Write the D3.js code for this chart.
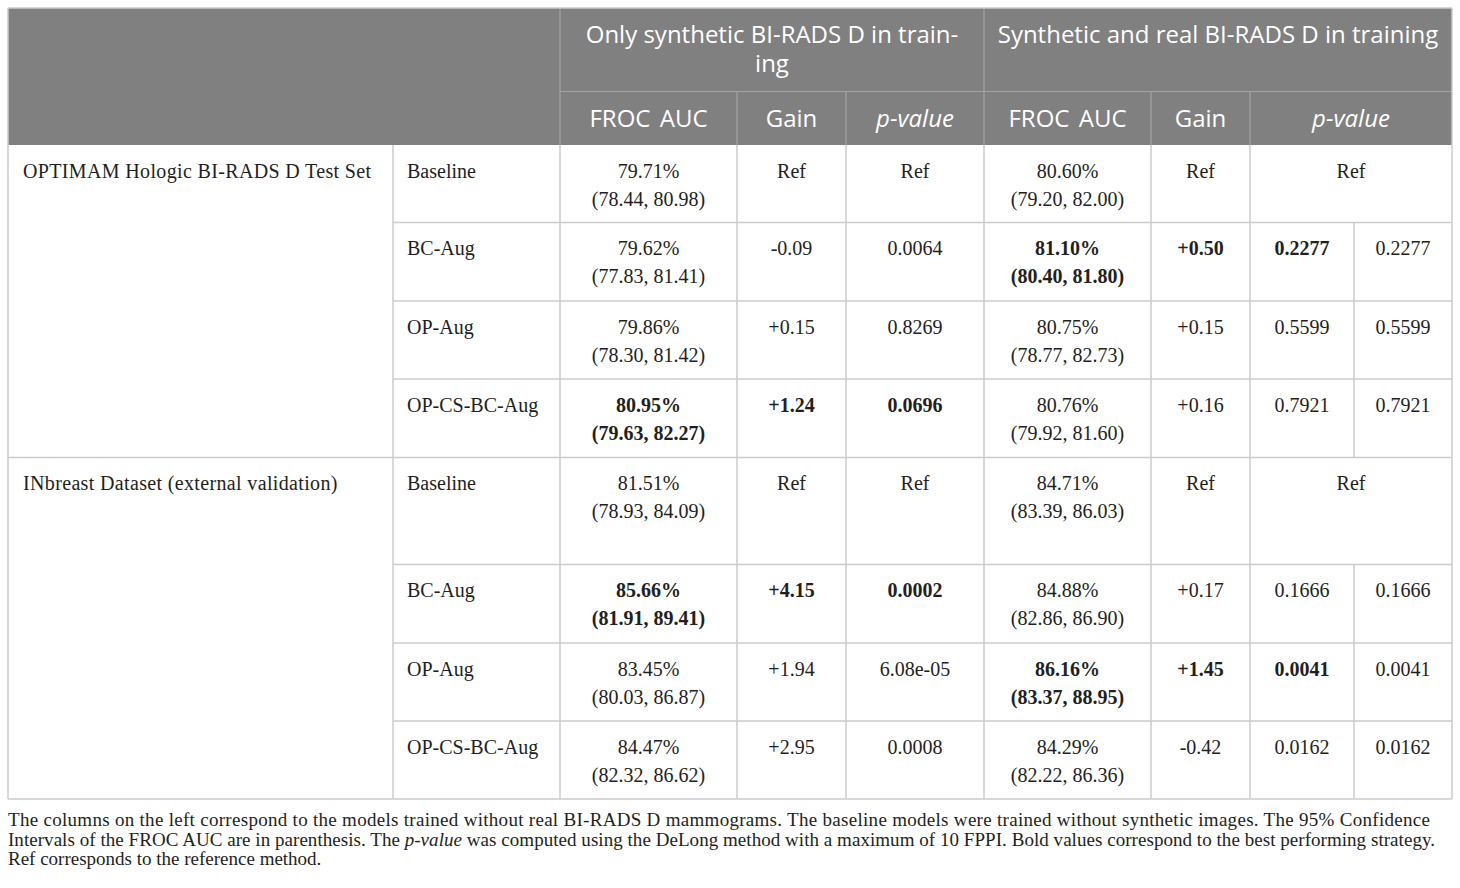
<!DOCTYPE html>
<html>
<head>
<meta charset="utf-8">
<script src="https://cdn.jsdelivr.net/npm/d3@7"></script>
<style>
  body { margin: 0; background: #fff; }
</style>
</head>
<body>
<div id="table"></div>
<script>
const datasets = ["OPTIMAM Hologic BI-RADS D Test Set", "INbreast Dataset (external validation)"];
const models = ["Baseline", "BC-Aug", "OP-Aug", "OP-CS-BC-Aug"];
const groupTitles = ["Only synthetic BI-RADS D in training", "Synthetic and real BI-RADS D in training"];
const subTitles = ["FROC AUC", "Gain", "p-value"];

// only synthetic BI-RADS D in training
const synthAuc = [79.71, 79.62, 79.86, 80.95, 81.51, 85.66, 83.45, 84.47];
const synthLo = [78.44, 77.83, 78.30, 79.63, 78.93, 81.91, 80.03, 82.32];
const synthHi = [80.98, 81.41, 81.42, 82.27, 84.09, 89.41, 86.87, 86.62];
const synthGain = [null, -0.09, 0.15, 1.24, null, 4.15, 1.94, 2.95];
const synthP = ["Ref", "0.0064", "0.8269", "0.0696", "Ref", "0.0002", "6.08e-05", "0.0008"];
const synthBold = [false, false, false, true, false, true, false, false];

// synthetic and real BI-RADS D in training
const realAuc = [80.60, 81.10, 80.75, 80.76, 84.71, 84.88, 86.16, 84.29];
const realLo = [79.20, 80.40, 78.77, 79.92, 83.39, 82.86, 83.37, 82.22];
const realHi = [82.00, 81.80, 82.73, 81.60, 86.03, 86.90, 88.95, 86.36];
const realGain = [null, 0.50, 0.15, 0.16, null, 0.17, 1.45, -0.42];
const realP = ["Ref", "0.2277", "0.5599", "0.7921", "Ref", "0.1666", "0.0041", "0.0162"];
const realBold = [false, true, false, false, false, false, true, false];

const notes = [
  [{ t: "The columns on the left correspond to the models trained without real BI-RADS D mammograms. The baseline models were trained without synthetic images. The 95% Confidence" }],
  [{ t: "Intervals of the FROC AUC are in parenthesis. The " }, { t: "p-value", i: true },
   { t: " was computed using the DeLong method with a maximum of 10 FPPI. Bold values correspond to the best performing strategy." }],
  [{ t: "Ref corresponds to the reference method." }]
];

// ---- layout ----
const W = 1460, H = 888;
const colKeys = ["dataset", "model", "sAuc", "sGain", "sP", "rAuc", "rGain", "rP1", "rP2"];
const colEdges = [8, 393, 560, 737, 846, 984, 1151, 1250, 1354, 1452];
const rowEdges = [145, 222.5, 301, 379, 457.5, 564.5, 643, 721, 799];
const headTop = 8, headMid = 91.5, headBottom = 145;

const serif = "'Liberation Serif', 'Times New Roman', serif";
const sans = "'Open Sans', 'Noto Sans', sans-serif";
const ink = "#231f20";
const headFill = "#808080", headLine = "#a3a3a3", bodyLine = "#cbcbcb";

const xL = d3.scaleOrdinal(colKeys, colEdges.slice(0, -1));
const xR = d3.scaleOrdinal(colKeys, colEdges.slice(1));
const xC = k => (xL(k) + xR(k)) / 2;
const rowIdx = d3.range(rowEdges.length - 1);
const yT = d3.scaleOrdinal(rowIdx, rowEdges.slice(0, -1));
const yB = d3.scaleOrdinal(rowIdx, rowEdges.slice(1));

const fmtAuc = d3.format(".2f");
const fmtGain = d3.formatLocale({ decimal: ".", thousands: ",", grouping: [3], currency: ["", ""], minus: "-" }).format("+.2f");

const svg = d3.select("#table").append("svg")
    .attr("width", W)
    .attr("height", H);

// ---- header ----
svg.append("rect")
    .attr("x", colEdges[0])
    .attr("y", headTop)
    .attr("width", colEdges[colEdges.length - 1] - colEdges[0])
    .attr("height", headBottom - headTop)
    .attr("fill", headFill);

const head = svg.append("g").attr("class", "head");

head.append("line")
    .attr("x1", xL("sAuc")).attr("x2", xR("rP2"))
    .attr("y1", headMid).attr("y2", headMid);

["sAuc", "rAuc"].forEach(k => head.append("line")
    .attr("x1", xL(k)).attr("x2", xL(k))
    .attr("y1", headTop).attr("y2", headBottom));

["sGain", "sP", "rGain", "rP1"].forEach(k => head.append("line")
    .attr("x1", xL(k)).attr("x2", xL(k))
    .attr("y1", headMid).attr("y2", headBottom));

head.selectAll("line")
    .attr("stroke", headLine)
    .attr("stroke-width", 1.2);

// group titles (the first one is hyphenated onto two lines)
const g1x = (xL("sAuc") + xR("sP")) / 2;
head.append("text")
    .attr("x", g1x)
    .attr("y", 43)
    .text(groupTitles[0].replace("training", "train-"));
head.append("text")
    .attr("x", g1x)
    .attr("y", 72)
    .text("ing");

head.append("text")
    .attr("x", (xL("rAuc") + xR("rP2")) / 2)
    .attr("y", 43)
    .text(groupTitles[1]);

const subCols = [
  { k: ["sAuc"], t: subTitles[0] }, { k: ["sGain"], t: subTitles[1] }, { k: ["sP"], t: subTitles[2], i: true },
  { k: ["rAuc"], t: subTitles[0] }, { k: ["rGain"], t: subTitles[1] }, { k: ["rP1", "rP2"], t: subTitles[2], i: true }
];
head.selectAll("text.sub")
    .data(subCols)
    .join("text")
    .attr("class", "sub")
    .attr("x", d => (xL(d.k[0]) + xR(d.k[d.k.length - 1])) / 2)
    .attr("y", 127)
    .attr("font-style", d => d.i ? "italic" : null)
    .attr("word-spacing", 3)
    .text(d => d.t);

head.selectAll("text")
    .attr("text-anchor", "middle")
    .attr("fill", "#fff")
    .attr("font-family", sans)
    .attr("font-size", 24);

// ---- body grid ----
const grid = svg.append("g").attr("class", "grid");

rowIdx.slice(1).forEach(i => grid.append("line")
    .attr("x1", i % 4 === 0 ? xL("dataset") : xL("model"))
    .attr("x2", xR("rP2"))
    .attr("y1", yT(i)).attr("y2", yT(i)));

grid.append("line")
    .attr("x1", xL("dataset")).attr("x2", xR("rP2"))
    .attr("y1", yB(7)).attr("y2", yB(7));

grid.append("line")
    .attr("x1", xL("dataset")).attr("x2", xR("rP2"))
    .attr("y1", headTop).attr("y2", headTop);

colKeys.filter(k => k !== "rP2").forEach(k => grid.append("line")
    .attr("x1", xL(k)).attr("x2", xL(k))
    .attr("y1", k === "dataset" ? headTop : headBottom)
    .attr("y2", yB(7)));

grid.append("line")
    .attr("x1", xR("rP2")).attr("x2", xR("rP2"))
    .attr("y1", headTop).attr("y2", yB(7));

rowIdx.filter(i => realP[i] !== "Ref").forEach(i => grid.append("line")
    .attr("x1", xL("rP2")).attr("x2", xL("rP2"))
    .attr("y1", yT(i)).attr("y2", yB(i)));

grid.selectAll("line")
    .attr("stroke", bodyLine)
    .attr("stroke-width", 1.5);

// ---- body text ----
const body = svg.append("g").attr("class", "body");
const line1 = 32.5, line2 = 60.5;

function cell(x, y, txt, anchor, bold) {
  return body.append("text")
      .attr("x", x)
      .attr("y", y)
      .attr("text-anchor", anchor)
      .attr("font-weight", bold ? "bold" : null)
      .text(txt);
}

datasets.forEach((d, g) => cell(xL("dataset") + 15, yT(g * 4) + line1, d, "start", false)
    .attr("letter-spacing", 0.35));

rowIdx.forEach(i => {
  const top = yT(i);
  cell(xL("model") + 14, top + line1, models[i % 4], "start", false);

  cell(xC("sAuc"), top + line1, fmtAuc(synthAuc[i]) + "%", "middle", synthBold[i]);
  cell(xC("sAuc"), top + line2, "(" + fmtAuc(synthLo[i]) + ", " + fmtAuc(synthHi[i]) + ")", "middle", synthBold[i]);
  cell(xC("sGain"), top + line1, synthGain[i] === null ? "Ref" : fmtGain(synthGain[i]), "middle", synthBold[i]);
  cell(xC("sP"), top + line1, synthP[i], "middle", synthBold[i]);

  cell(xC("rAuc"), top + line1, fmtAuc(realAuc[i]) + "%", "middle", realBold[i]);
  cell(xC("rAuc"), top + line2, "(" + fmtAuc(realLo[i]) + ", " + fmtAuc(realHi[i]) + ")", "middle", realBold[i]);
  cell(xC("rGain"), top + line1, realGain[i] === null ? "Ref" : fmtGain(realGain[i]), "middle", realBold[i]);
  if (realP[i] === "Ref") {
    cell((xL("rP1") + xR("rP2")) / 2, top + line1, "Ref", "middle", false);
  } else {
    cell(xC("rP1"), top + line1, realP[i], "middle", realBold[i]);
    cell(xC("rP2"), top + line1, realP[i], "middle", false);
  }
});

body.selectAll("text")
    .attr("fill", ink)
    .attr("font-family", serif)
    .attr("font-size", 20);

// ---- footnote ----
const noteY = [826, 845.5, 865];
const noteWidth = [1422, 1427, null];
const noteLines = notes.map((parts, n) => {
  const t = svg.append("text")
      .attr("x", colEdges[0])
      .attr("y", noteY[n])
      .attr("fill", ink)
      .attr("font-family", serif)
      .attr("font-size", 17);
  parts.forEach(p => t.append("tspan")
      .attr("font-style", p.i ? "italic" : null)
      .text(p.t));
  return t;
});
// size the note font so the first (justified) line fills the table width
const natural = noteLines[0].node().getComputedTextLength();
const noteSize = Math.min(19, 17 * noteWidth[0] / natural);
noteLines.forEach((t, n) => {
  t.attr("font-size", noteSize);
  if (noteWidth[n]) t.attr("textLength", noteWidth[n]).attr("lengthAdjust", "spacing");
});
</script>
</body>
</html>
